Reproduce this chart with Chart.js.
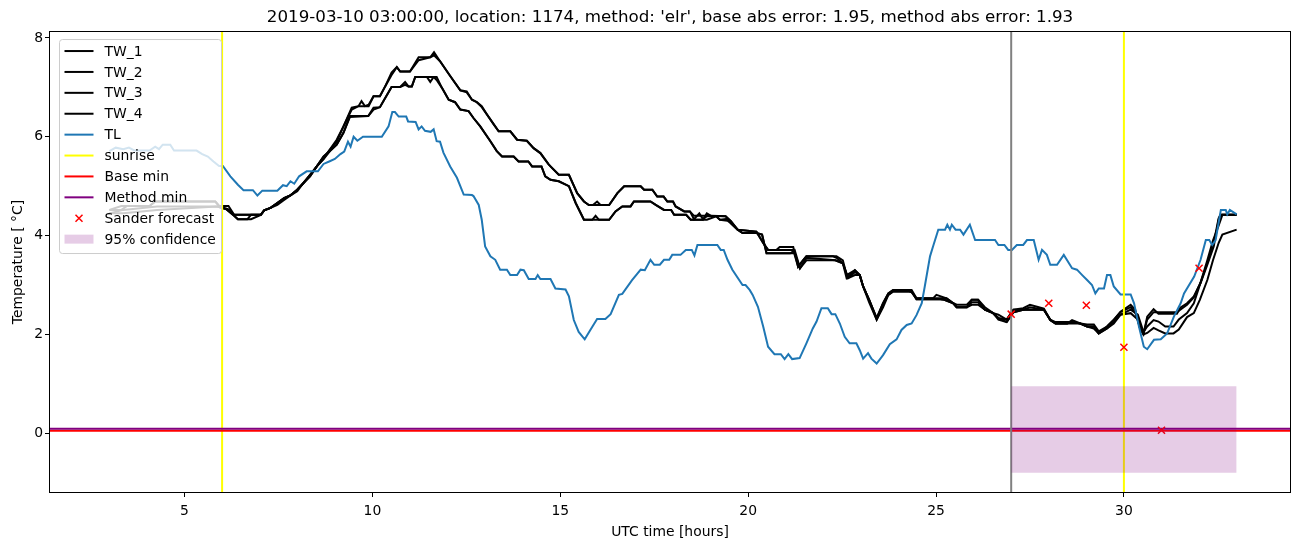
<!DOCTYPE html>
<html>
<head>
<meta charset="utf-8">
<title>Temperature forecast 1174</title>
<script src="https://cdn.jsdelivr.net/npm/chart.js@4.4.1/dist/chart.umd.min.js"></script>
<style>
  html, body { margin: 0; padding: 0; background: #fff; }
  #wrap { width: 1302px; height: 547px; }
</style>
</head>
<body>
<div id="wrap"><canvas id="grafico" width="1302" height="547"></canvas></div>
<script>
// TL (blue) readings, hours UTC / temperature
const tlHours = [
  3.0, 3.17, 3.37, 3.52, 3.67, 4.07, 4.22, 4.32, 4.42, 4.62,
  4.72, 5.32, 5.47, 5.62, 5.77, 5.92, 6.02, 6.22, 6.42, 6.57,
  6.82, 6.94, 7.07, 7.47, 7.62, 7.72, 7.82, 7.92, 8.05, 8.25,
  8.55, 8.7, 8.85, 9.0, 9.15, 9.25, 9.35, 9.42, 9.5, 9.6,
  9.75, 10.25, 10.43, 10.53, 10.6, 10.7, 10.9, 10.95, 11.15, 11.23,
  11.31, 11.4, 11.55, 11.63, 11.71, 11.8, 11.89, 12.07, 12.25, 12.43,
  12.65, 12.69, 12.83, 12.91, 13.0, 13.14, 13.27, 13.4, 13.58, 13.67,
  13.85, 13.94, 14.03, 14.16, 14.34, 14.4, 14.47, 14.74, 14.87, 15.14,
  15.23, 15.36, 15.49, 15.65, 15.8, 15.98, 16.2, 16.34, 16.56, 16.65,
  16.91, 17.14, 17.25, 17.4, 17.5, 17.65, 17.76, 17.9, 17.98, 18.2,
  18.34, 18.5, 18.57, 18.65, 19.18, 19.27, 19.35, 19.45, 19.58, 19.85,
  19.93, 20.04, 20.12, 20.26, 20.4, 20.53, 20.7, 20.87, 20.97, 21.07,
  21.17, 21.37, 21.55, 21.72, 21.82, 21.95, 22.12, 22.22, 22.32, 22.44,
  22.57, 22.7, 22.88, 22.97, 23.06, 23.19, 23.28, 23.42, 23.59, 23.77,
  23.95, 24.08, 24.22, 24.35, 24.48, 24.62, 24.7, 24.84, 24.92, 25.06,
  25.24, 25.3, 25.37, 25.42, 25.52, 25.64, 25.73, 25.9, 26.04, 26.57,
  26.66, 26.82, 26.92, 27.02, 27.15, 27.32, 27.42, 27.6, 27.73, 27.82,
  27.95, 28.04, 28.22, 28.4, 28.62, 28.75, 28.89, 29.02, 29.15, 29.24,
  29.33, 29.47, 29.55, 29.64, 29.73, 29.91, 30.18, 30.27, 30.4, 30.53,
  30.62, 30.8, 30.98, 31.15, 31.33, 31.51, 31.6, 31.87, 32.04, 32.18,
  32.27, 32.35, 32.44, 32.58, 32.71, 32.75, 32.82, 33.0
]
const tlTemp = [
  5.71, 5.78, 5.75, 5.78, 5.72, 5.72, 5.8, 5.75, 5.84, 5.84,
  5.72, 5.72, 5.65, 5.6, 5.5, 5.41, 5.41, 5.2, 5.03, 4.92,
  4.92, 4.81, 4.91, 4.91, 5.02, 5.0, 5.1, 5.05, 5.2, 5.3,
  5.3, 5.45, 5.5, 5.55, 5.65, 5.7, 5.9, 5.8, 6.0, 5.92,
  6.0, 6.0, 6.21, 6.5, 6.5, 6.41, 6.41, 6.31, 6.3, 6.15,
  6.21, 6.12, 6.1, 6.15, 5.91, 5.9, 5.68, 5.4, 5.17, 4.83,
  4.82, 4.8, 4.62, 4.32, 3.78, 3.58, 3.51, 3.31, 3.31, 3.2,
  3.2, 3.31, 3.3, 3.12, 3.12, 3.2, 3.12, 3.12, 2.93, 2.91,
  2.77, 2.29, 2.05, 1.9, 2.09, 2.31, 2.31, 2.41, 2.8, 2.82,
  3.1, 3.31, 3.3, 3.51, 3.41, 3.41, 3.51, 3.51, 3.61, 3.61,
  3.71, 3.71, 3.6, 3.81, 3.81, 3.71, 3.71, 3.51, 3.31, 3.0,
  3.0, 2.9, 2.8, 2.56, 2.16, 1.75, 1.6, 1.6, 1.5, 1.6,
  1.5, 1.52, 1.82, 2.12, 2.26, 2.53, 2.53, 2.41, 2.41, 2.22,
  1.95, 1.82, 1.82, 1.68, 1.51, 1.62, 1.51, 1.41, 1.58, 1.8,
  1.9, 2.09, 2.19, 2.22, 2.39, 2.63, 2.97, 3.58, 3.78, 4.12,
  4.12, 4.22, 4.12, 4.22, 4.12, 4.12, 4.02, 4.22, 3.91, 3.91,
  3.81, 3.81, 3.71, 3.71, 3.81, 3.81, 3.91, 3.91, 3.51, 3.71,
  3.61, 3.41, 3.41, 3.61, 3.34, 3.31, 3.2, 3.1, 3.0, 2.83,
  2.93, 2.93, 3.2, 3.2, 2.97, 2.81, 2.81, 2.63, 2.16, 1.75,
  1.7, 1.89, 1.9, 2.02, 2.36, 2.63, 2.83, 3.17, 3.51, 3.91,
  3.91, 3.81, 3.91, 4.52, 4.52, 4.43, 4.52, 4.43
]

// TW_1 / TW_2 share sample hours
const twHoursA = [
  3.0, 3.32, 3.47, 4.07, 4.22, 5.82, 5.92, 6.17, 6.32, 7.03,
  7.12, 7.29, 7.47, 7.65, 7.83, 8.0, 8.16, 8.34, 8.52, 8.7,
  8.8, 9.05, 9.23, 9.45, 9.63, 9.71, 9.8, 9.9, 10.03, 10.2,
  10.34, 10.51, 10.65, 10.74, 11.0, 11.23, 11.54, 11.64, 11.8, 12.07,
  12.34, 12.51, 12.65, 12.78, 12.91, 13.05, 13.23, 13.36, 13.67, 13.85,
  14.11, 14.29, 14.47, 14.69, 14.74, 14.96, 15.23, 15.45, 15.63, 15.76,
  15.87, 15.98, 16.07, 16.3, 16.52, 16.7, 17.14, 17.23, 17.45, 17.58,
  17.75, 17.85, 18.0, 18.07, 18.3, 18.45, 18.56, 18.7, 18.8, 18.9,
  19.01, 19.4, 19.54, 19.72, 20.22, 20.4, 20.53, 20.75, 20.84, 21.2,
  21.33, 21.47, 21.55, 22.26, 22.35, 22.52, 22.62, 22.84, 22.97, 23.06,
  23.22, 23.42, 23.59, 23.73, 23.86, 24.22, 24.35, 24.48, 24.92, 25.01,
  25.28, 25.46, 25.55, 25.82, 25.95, 26.12, 26.3, 26.52, 26.66, 26.88,
  27.06, 27.32, 27.5, 27.87, 28.04, 28.18, 28.49, 28.62, 28.84, 29.02,
  29.2, 29.33, 29.55, 29.73, 29.91, 30.18, 30.3, 30.44, 30.52, 30.62,
  30.79, 30.92, 31.41, 31.5, 31.68, 31.86, 32.04, 32.22, 32.39, 32.52,
  32.57, 33.0
]
const tw1 = [
  4.52, 4.52, 4.6, 4.6, 4.69, 4.69, 4.6, 4.6, 4.42, 4.42,
  4.51, 4.56, 4.66, 4.76, 4.82, 4.93, 5.06, 5.23, 5.4, 5.6,
  5.67, 5.94, 6.21, 6.59, 6.62, 6.72, 6.62, 6.65, 6.82, 6.82,
  7.02, 7.3, 7.41, 7.32, 7.32, 7.61, 7.61, 7.71, 7.53, 7.23,
  6.94, 6.92, 6.75, 6.7, 6.62, 6.45, 6.25, 6.11, 6.11, 5.94,
  5.92, 5.77, 5.67, 5.44, 5.4, 5.23, 5.23, 4.86, 4.69, 4.62,
  4.62, 4.69, 4.62, 4.62, 4.86, 5.0, 5.0, 4.93, 4.93, 4.79,
  4.79, 4.69, 4.69, 4.59, 4.49, 4.49, 4.33, 4.45, 4.33, 4.45,
  4.4, 4.39, 4.29, 4.12, 4.08, 3.85, 3.71, 3.71, 3.77, 3.77,
  3.37, 3.51, 3.58, 3.58, 3.55, 3.44, 3.14, 3.3, 3.2, 2.97,
  2.7, 2.33, 2.63, 2.83, 2.9, 2.9, 2.85, 2.73, 2.73, 2.8,
  2.73, 2.63, 2.55, 2.55, 2.7, 2.7, 2.5, 2.43, 2.33, 2.3,
  2.5, 2.53, 2.6, 2.52, 2.29, 2.22, 2.22, 2.29, 2.22, 2.16,
  2.16, 2.02, 2.16, 2.29, 2.46, 2.6, 2.5, 2.09, 2.0, 2.36,
  2.51, 2.42, 2.42, 2.54, 2.63, 2.77, 3.04, 3.41, 3.78, 4.32,
  4.42, 4.42
]
const tw2 = [
  4.52, 4.6, 4.6, 4.6, 4.69, 4.69, 4.6, 4.53, 4.42, 4.42,
  4.51, 4.56, 4.66, 4.76, 4.82, 4.93, 5.06, 5.2, 5.4, 5.55,
  5.67, 5.9, 6.21, 6.55, 6.62, 6.62, 6.62, 6.62, 6.82, 6.82,
  7.02, 7.25, 7.41, 7.32, 7.32, 7.55, 7.61, 7.65, 7.53, 7.23,
  6.94, 6.9, 6.75, 6.7, 6.6, 6.45, 6.25, 6.11, 6.11, 5.94,
  5.92, 5.77, 5.67, 5.44, 5.4, 5.23, 5.23, 4.86, 4.69, 4.62,
  4.62, 4.62, 4.62, 4.62, 4.86, 5.0, 5.0, 4.93, 4.93, 4.79,
  4.79, 4.69, 4.69, 4.59, 4.49, 4.49, 4.4, 4.4, 4.4, 4.4,
  4.4, 4.39, 4.29, 4.12, 4.08, 3.85, 3.71, 3.71, 3.71, 3.71,
  3.37, 3.51, 3.58, 3.58, 3.58, 3.5, 3.2, 3.3, 3.2, 2.97,
  2.7, 2.33, 2.63, 2.83, 2.9, 2.9, 2.9, 2.73, 2.73, 2.73,
  2.73, 2.63, 2.6, 2.6, 2.7, 2.7, 2.55, 2.43, 2.4, 2.3,
  2.5, 2.5, 2.55, 2.5, 2.3, 2.25, 2.25, 2.25, 2.22, 2.2,
  2.2, 2.06, 2.16, 2.3, 2.45, 2.55, 2.45, 2.1, 2.02, 2.3,
  2.45, 2.45, 2.45, 2.5, 2.6, 2.75, 3.05, 3.45, 3.85, 4.35,
  4.42, 4.42
]

// TW_3 / TW_4 share sample hours
const twHoursB = [
  3.0, 3.37, 4.27, 5.87, 6.12, 6.32, 6.42, 6.67, 6.77, 7.03,
  7.12, 7.29, 7.47, 7.65, 7.83, 8.0, 8.16, 8.34, 8.52, 8.7,
  8.87, 9.05, 9.23, 9.4, 9.89, 10.03, 10.2, 10.51, 10.74, 10.87,
  10.96, 11.05, 11.14, 11.45, 11.54, 11.63, 11.71, 11.85, 12.03, 12.2,
  12.34, 12.56, 12.69, 12.87, 13.14, 13.31, 13.45, 13.76, 13.89, 14.15,
  14.25, 14.5, 14.6, 14.74, 14.96, 15.23, 15.41, 15.63, 15.85, 15.94,
  16.03, 16.3, 16.47, 16.65, 16.87, 16.96, 17.4, 17.54, 17.76, 17.95,
  18.03, 18.35, 18.47, 18.78, 18.9, 19.15, 19.25, 19.45, 19.54, 19.72,
  19.85, 20.22, 20.37, 20.49, 21.12, 21.24, 21.38, 21.55, 22.32, 22.52,
  22.66, 22.84, 22.97, 23.06, 23.22, 23.42, 23.59, 23.73, 23.86, 24.35,
  24.48, 25.11, 25.22, 25.46, 25.55, 25.82, 25.95, 26.12, 26.3, 26.52,
  26.66, 26.88, 27.06, 27.32, 27.87, 28.04, 28.18, 28.49, 28.62, 28.84,
  29.02, 29.2, 29.33, 29.55, 29.73, 29.91, 30.18, 30.37, 30.52, 30.62,
  30.79, 30.92, 31.1, 31.32, 31.46, 31.68, 31.86, 32.02, 32.22, 32.37,
  32.52, 32.62, 33.0
]
const tw3 = [
  4.45, 4.52, 4.59, 4.59, 4.53, 4.4, 4.33, 4.33, 4.42, 4.42,
  4.51, 4.56, 4.66, 4.76, 4.82, 4.93, 5.06, 5.23, 5.4, 5.6,
  5.71, 5.84, 6.08, 6.42, 6.42, 6.59, 6.6, 7.01, 7.01, 7.11,
  7.02, 7.02, 7.21, 7.21, 7.11, 7.21, 7.21, 6.99, 6.75, 6.7,
  6.55, 6.52, 6.38, 6.21, 5.91, 5.71, 5.6, 5.6, 5.5, 5.5,
  5.4, 5.4, 5.2, 5.13, 5.1, 5.0, 4.66, 4.32, 4.32, 4.4,
  4.32, 4.32, 4.49, 4.59, 4.59, 4.69, 4.69, 4.62, 4.52, 4.52,
  4.42, 4.42, 4.32, 4.32, 4.39, 4.39, 4.32, 4.34, 4.25, 4.12,
  4.05, 4.05, 4.02, 3.64, 3.64, 3.7, 3.34, 3.55, 3.5, 3.44,
  3.14, 3.26, 3.2, 2.97, 2.7, 2.3, 2.6, 2.8, 2.87, 2.87,
  2.71, 2.71, 2.7, 2.63, 2.55, 2.55, 2.65, 2.65, 2.5, 2.43,
  2.3, 2.25, 2.45, 2.5, 2.5, 2.29, 2.22, 2.22, 2.25, 2.22,
  2.16, 2.12, 2.02, 2.12, 2.25, 2.4, 2.5, 2.4, 2.05, 2.16,
  2.29, 2.26, 2.16, 2.16, 2.3, 2.43, 2.63, 3.0, 3.5, 3.9,
  4.2, 4.42, 4.42
]
const tw4 = [
  4.45, 4.45, 4.52, 4.59, 4.53, 4.4, 4.33, 4.33, 4.33, 4.42,
  4.51, 4.56, 4.62, 4.72, 4.82, 4.9, 5.06, 5.2, 5.4, 5.55,
  5.71, 5.84, 6.08, 6.4, 6.42, 6.55, 6.6, 7.01, 7.01, 7.05,
  7.02, 7.02, 7.21, 7.21, 7.21, 7.21, 7.15, 6.99, 6.75, 6.7,
  6.55, 6.52, 6.38, 6.21, 5.91, 5.71, 5.6, 5.6, 5.5, 5.5,
  5.4, 5.4, 5.2, 5.13, 5.1, 5.0, 4.66, 4.32, 4.32, 4.32,
  4.32, 4.32, 4.49, 4.59, 4.59, 4.69, 4.69, 4.62, 4.52, 4.52,
  4.42, 4.42, 4.32, 4.32, 4.32, 4.39, 4.32, 4.3, 4.25, 4.12,
  4.05, 4.05, 4.02, 3.64, 3.64, 3.64, 3.34, 3.5, 3.5, 3.44,
  3.14, 3.2, 3.2, 2.97, 2.65, 2.3, 2.55, 2.8, 2.87, 2.87,
  2.71, 2.71, 2.7, 2.63, 2.55, 2.55, 2.6, 2.6, 2.5, 2.43,
  2.33, 2.25, 2.45, 2.5, 2.5, 2.29, 2.22, 2.22, 2.22, 2.22,
  2.16, 2.16, 2.02, 2.12, 2.22, 2.4, 2.43, 2.3, 2.0, 2.03,
  2.13, 2.08, 2.02, 2.02, 2.1, 2.35, 2.43, 2.7, 3.1, 3.5,
  3.85, 4.02, 4.12
]

const sanderHours = [27, 28, 29, 30, 31, 32]
const sanderTemp = [2.41, 2.63, 2.59, 1.74, 0.06, 3.34]

const confHours = [27, 33]
const confUpper = [0.95, 0.95]
const confLower = -0.8

const sunriseHours = [6, 30]
const forecastHour = 27
const baseMin = 0.05
const methodMin = 0.09

const titleText = "2019-03-10 03:00:00, location: 1174, method: 'elr', base abs error: 1.95, method abs error: 1.93"

function toPoints(xs, ys) {
  if (xs.length !== ys.length) throw new Error("length mismatch " + xs.length + " / " + ys.length)
  return xs.map((x, i) => ({ x: x, y: ys[i] }))
}

const fontFamily = '"DejaVu Sans", sans-serif'
Chart.defaults.font.family = fontFamily
Chart.defaults.font.size = 13.9
Chart.defaults.color = "#000"

const legendItems = [
  { label: "TW_1", kind: "line", color: "#000000" },
  { label: "TW_2", kind: "line", color: "#000000" },
  { label: "TW_3", kind: "line", color: "#000000" },
  { label: "TW_4", kind: "line", color: "#000000" },
  { label: "TL", kind: "line", color: "#1f77b4" },
  { label: "sunrise", kind: "line", color: "#ffff00" },
  { label: "Base min", kind: "line", color: "#ff0000" },
  { label: "Method min", kind: "line", color: "#800080" },
  { label: "Sander forecast", kind: "cross", color: "#ff0000" },
  { label: "95% confidence", kind: "patch", color: "rgba(128,0,128,0.2)" },
]

// axvline / axhline style reference lines, drawn just under the forecast markers
const refLines = {
  id: "refLines",
  beforeDatasetDraw(chart, args) {
    if (chart.data.datasets[args.index].label !== "Sander forecast") return
    const { ctx, chartArea: a, scales: { x, y } } = chart
    ctx.save()
    ctx.beginPath()
    ctx.rect(a.left, a.top, a.right - a.left, a.bottom - a.top)
    ctx.clip()
    ctx.lineWidth = 2
    const vline = (h, color) => {
      const px = x.getPixelForValue(h)
      ctx.strokeStyle = color
      ctx.beginPath()
      ctx.moveTo(px, a.top)
      ctx.lineTo(px, a.bottom)
      ctx.stroke()
    }
    const hline = (v, color) => {
      const py = y.getPixelForValue(v)
      ctx.strokeStyle = color
      ctx.beginPath()
      ctx.moveTo(a.left, py)
      ctx.lineTo(a.right, py)
      ctx.stroke()
    }
    sunriseHours.forEach(h => vline(h, "#ffff00"))
    hline(baseMin, "#ff0000")
    hline(methodMin, "#800080")
    vline(forecastHour, "#808080")
    ctx.restore()
  },
  afterDatasetsDraw(chart) {
    const { ctx, chartArea: a } = chart
    ctx.save()
    ctx.strokeStyle = "#000"
    ctx.lineWidth = 1
    ctx.strokeRect(Math.round(a.left) - 0.5, Math.round(a.top) - 0.5,
      Math.round(a.right - a.left) + 1, Math.round(a.bottom - a.top) + 1)
    ctx.restore()
  },
}

const insideLegend = {
  id: "insideLegend",
  afterDraw(chart) {
    const { ctx, chartArea: a } = chart
    const x0 = a.left + 9.5
    const y0 = a.top + 7.5
    const w = 162
    const h = 214
    ctx.save()
    ctx.beginPath()
    if (ctx.roundRect) ctx.roundRect(x0, y0, w, h, 3)
    else ctx.rect(x0, y0, w, h)
    ctx.fillStyle = "rgba(255,255,255,0.8)"
    ctx.fill()
    ctx.strokeStyle = "#cccccc"
    ctx.lineWidth = 1
    ctx.stroke()
    ctx.font = "13.9px " + fontFamily
    ctx.textBaseline = "middle"
    legendItems.forEach((item, i) => {
      const cy = y0 + 11.5 + i * 20.9
      const hx = x0 + 5
      if (item.kind === "line") {
        ctx.strokeStyle = item.color
        ctx.lineWidth = 2
        ctx.beginPath()
        ctx.moveTo(hx, cy)
        ctx.lineTo(hx + 29, cy)
        ctx.stroke()
      } else if (item.kind === "cross") {
        ctx.strokeStyle = item.color
        ctx.lineWidth = 1.5
        const cx = hx + 14.5
        const r = 3.5
        ctx.beginPath()
        ctx.moveTo(cx - r, cy - r); ctx.lineTo(cx + r, cy + r)
        ctx.moveTo(cx - r, cy + r); ctx.lineTo(cx + r, cy - r)
        ctx.stroke()
      } else {
        ctx.fillStyle = item.color
        ctx.fillRect(hx, cy - 4.5, 29, 9)
      }
      ctx.fillStyle = "#000"
      ctx.fillText(item.label, x0 + 45, cy + 1)
    })
    ctx.restore()
  },
}

const lineStyle = (color) => ({
  borderColor: color,
  backgroundColor: color,
  borderWidth: 2,
  pointRadius: 0,
  tension: 0,
  fill: false,
})

const data = {
  datasets: [
    { label: "TW_1", data: toPoints(twHoursA, tw1), order: 7, ...lineStyle("#000000") },
    { label: "TW_2", data: toPoints(twHoursA, tw2), order: 6, ...lineStyle("#000000") },
    { label: "TW_3", data: toPoints(twHoursB, tw3), order: 5, ...lineStyle("#000000") },
    { label: "TW_4", data: toPoints(twHoursB, tw4), order: 4, ...lineStyle("#000000") },
    { label: "TL", data: toPoints(tlHours, tlTemp), order: 3, ...lineStyle("#1f77b4") },
    {
      label: "Sander forecast",
      data: toPoints(sanderHours, sanderTemp),
      order: 2,
      showLine: false,
      pointStyle: "crossRot",
      pointRadius: 5,
      borderWidth: 1.5,
      borderColor: "#ff0000",
      backgroundColor: "#ff0000",
    },
    {
      label: "95% confidence",
      data: toPoints(confHours, confUpper),
      order: 1,
      borderWidth: 0,
      pointRadius: 0,
      backgroundColor: "rgba(128,0,128,0.2)",
      fill: { value: confLower },
    },
  ],
}

const config = {
  type: "line",
  data: data,
  plugins: [refLines, insideLegend],
  options: {
    responsive: false,
    animation: false,
    layout: { padding: { left: 0, right: 12, top: 0, bottom: 0 } },
    plugins: {
      legend: { display: false },
      tooltip: { enabled: false },
      title: {
        display: true,
        text: titleText,
        fullSize: false,
        color: "#000",
        font: { size: 16.7, weight: "normal" },
        padding: { top: 8, bottom: 4 },
      },
    },
    scales: {
      x: {
        type: "linear",
        min: 1.42,
        max: 34.42,
        afterFit: (scale) => { scale.height = 55 },
        ticks: { stepSize: 5, includeBounds: false, padding: 6, maxRotation: 0, color: "#000" },
        grid: { drawOnChartArea: false, drawTicks: true, tickLength: 5, color: "#000" },
        border: { display: false },
        title: { display: true, text: "UTC time [hours]", color: "#000", padding: { top: 0, bottom: 6.7 } },
      },
      y: {
        min: -1.19,
        max: 8.12,
        afterFit: (scale) => { scale.width = 50 },
        ticks: { stepSize: 2, includeBounds: false, padding: 2, color: "#000" },
        grid: { drawOnChartArea: false, drawTicks: true, tickLength: 5, color: "#000" },
        border: { display: false },
        title: { display: true, text: "Temperature [ \u00b0C]", color: "#000", padding: { top: 9.7, bottom: 0 } },
      },
    },
  },
}

new Chart(document.querySelector("#grafico"), config)
</script>
</body>
</html>
